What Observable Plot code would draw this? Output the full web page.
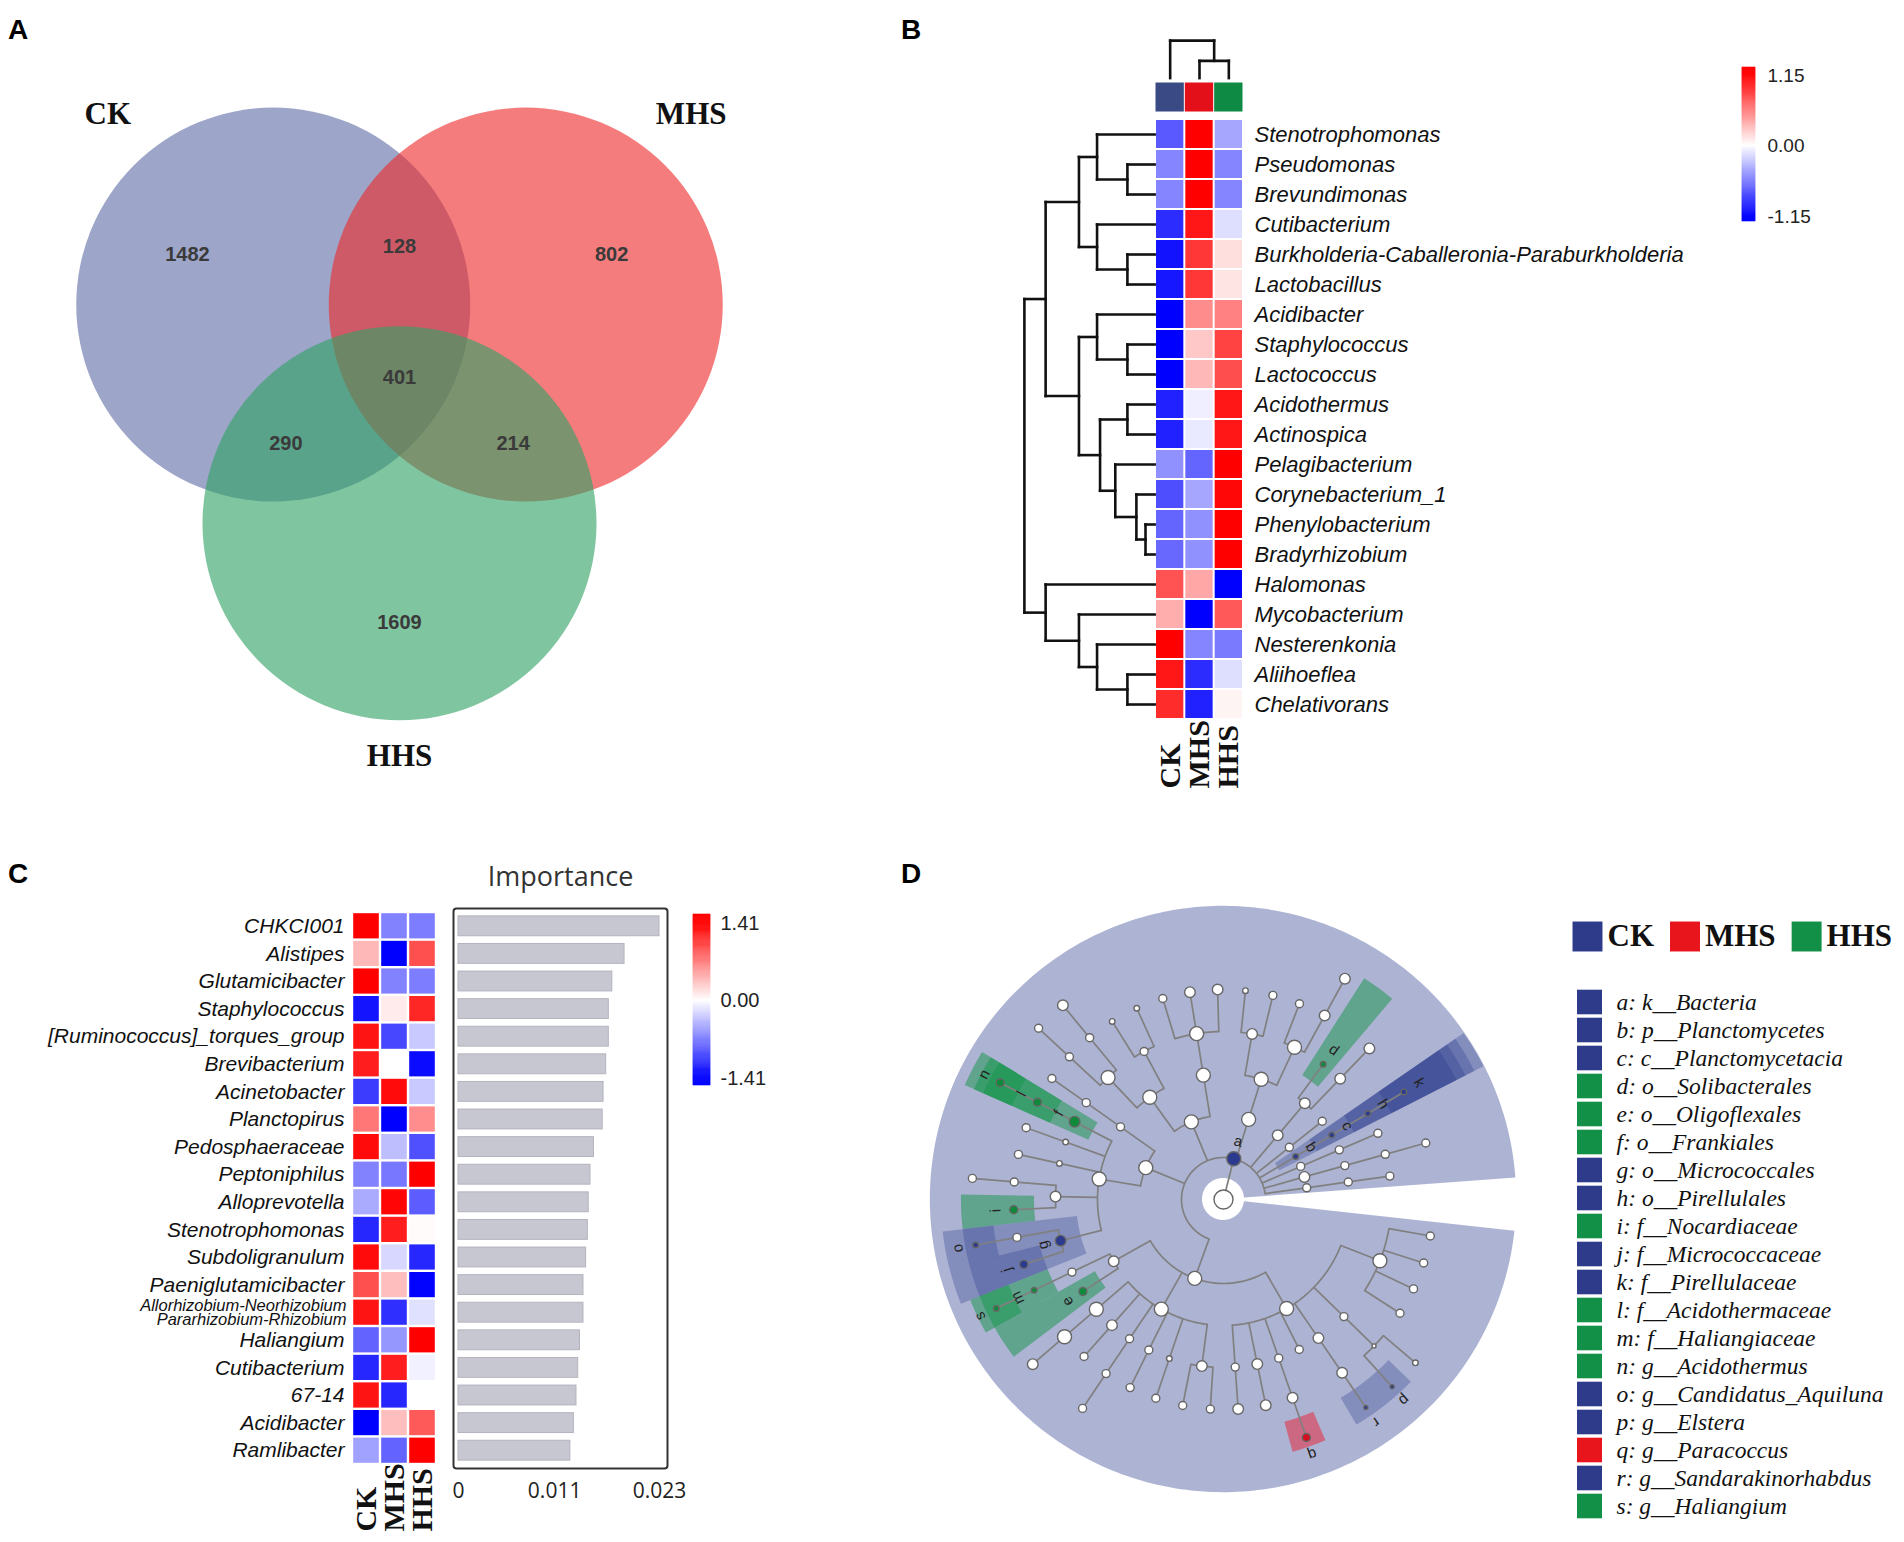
<!DOCTYPE html>
<html><head><meta charset="utf-8">
<script src="https://cdn.jsdelivr.net/npm/d3@7"></script>
<script src="https://cdn.jsdelivr.net/npm/@observablehq/plot@0.6"></script>
<style>
html,body{margin:0;padding:0;background:#fff;}
#fig{position:relative;width:1904px;height:1542px;overflow:hidden;font-family:"Liberation Sans",Arial,sans-serif;}
.panel{position:absolute;}
.tag{position:absolute;font:bold 28px "Liberation Sans",Arial,sans-serif;line-height:1;color:#000;}
</style></head><body>
<div id="fig"></div>
<script>
// ================= DATA =================
const groups = ["CK", "MHS", "HHS"];

// Panel A : Venn
const vennSets = ["CK", "MHS", "HHS"];
const vennRegions = [["CK"], ["MHS"], ["HHS"], ["CK","MHS"], ["CK","HHS"], ["MHS","HHS"], ["CK","MHS","HHS"]];
const vennCounts = [1482, 802, 1609, 128, 290, 214, 401];

// Panel B : clustered heatmap
const bGenera = ["Stenotrophomonas","Pseudomonas","Brevundimonas","Cutibacterium","Burkholderia-Caballeronia-Paraburkholderia","Lactobacillus","Acidibacter","Staphylococcus","Lactococcus","Acidothermus","Actinospica","Pelagibacterium","Corynebacterium_1","Phenylobacterium","Bradyrhizobium","Halomonas","Mycobacterium","Nesterenkonia","Aliihoeflea","Chelativorans"];
const bCK  = [-0.75,-0.55,-0.55,-0.95,-1.07,-1.05,-1.15,-1.15,-1.15,-1.0,-1.0,-0.5,-0.8,-0.7,-0.68,0.78,0.37,1.15,1.05,0.95];
const bMHS = [1.15,1.15,1.15,1.05,0.9,0.9,0.52,0.25,0.32,-0.07,-0.1,-0.7,-0.4,-0.5,-0.5,0.4,-1.15,-0.55,-0.95,-1.0];
const bHHS = [-0.4,-0.55,-0.55,-0.15,0.15,0.12,0.57,0.85,0.8,1.05,1.05,1.15,1.12,1.15,1.15,-1.15,0.75,-0.6,-0.15,0.05];
const bLimit = 1.15;
// dendrograms: [height, left, right], leaves = row / column index
const bRowTree = [1.0,
  [0.837,
    [0.581, [0.442, 0, [0.209, 1, 2]], [0.442, 3, [0.209, 4, 5]]],
    [0.581, [0.442, 6, [0.209, 7, 8]], [0.419, [0.209, 9, 10], [0.302, 11, [0.14, 12, [0.07, 13, 14]]]]]],
  [0.837, 15, [0.581, 16, [0.442, 17, [0.209, 18, 19]]]]];
const bColTree = [1.0, 0, [0.46, 1, 2]];

// Panel C : heatmap + importance
const cGenera = ["CHKCI001","Alistipes","Glutamicibacter","Staphylococcus","[Ruminococcus]_torques_group","Brevibacterium","Acinetobacter","Planctopirus","Pedosphaeraceae","Peptoniphilus","Alloprevotella","Stenotrophomonas","Subdoligranulum","Paeniglutamicibacter","Allorhizobium-Neorhizobium-Pararhizobium-Rhizobium","Haliangium","Cutibacterium","67-14","Acidibacter","Ramlibacter"];
const cCK  = [1.41,0.39,1.41,-1.3,1.3,1.25,-1.08,0.75,1.35,-0.69,-0.47,-1.2,1.35,0.97,1.3,-0.86,-1.2,1.3,-1.41,-0.52];
const cMHS = [-0.69,-1.41,-0.69,0.11,-1.02,0.0,1.35,-1.41,-0.36,-0.75,1.38,1.25,-0.22,0.36,-1.15,-0.58,1.25,-1.2,0.36,-0.86];
const cHHS = [-0.72,0.97,-0.72,1.2,-0.3,-1.35,-0.3,0.63,-0.97,1.41,-0.9,0.02,-1.2,-1.4,-0.17,1.41,-0.08,0.0,0.91,1.41];
const cImportance = [0.0230,0.0190,0.0176,0.0172,0.0172,0.0169,0.0166,0.0165,0.0155,0.0151,0.0149,0.0148,0.0146,0.0143,0.0143,0.0139,0.0137,0.0135,0.0132,0.0128];
const cTicks = [0, 0.011, 0.023];
const cLimit = 1.41;

// Panel D : LEfSe cladogram
const cladeIds = ["a","b","c","d","e","f","g","h","i","j","k","l","m","n","o","p","q","r","s"];
const cladeTaxa = ["k__Bacteria","p__Planctomycetes","c__Planctomycetacia","o__Solibacterales","o__Oligoflexales","o__Frankiales","o__Micrococcales","o__Pirellulales","f__Nocardiaceae","f__Micrococcaceae","f__Pirellulaceae","f__Acidothermaceae","f__Haliangiaceae","g__Acidothermus","g__Candidatus_Aquiluna","g__Elstera","g__Paracoccus","g__Sandarakinorhabdus","g__Haliangium"];
const cladeGroup = ["CK","CK","CK","HHS","HHS","HHS","CK","CK","HHS","CK","CK","HHS","HHS","HHS","CK","CK","MHS","CK","HHS"];
// tree: N(abundance class, children, biomarker id)
const N = (s, ch = [], id = null) => ({s, ch, id});
const cladeTree = N(5, [
  N(4, [
    N(4, [
      N(4, [
        N(4, [N(2), N(2), N(2), N(2)]),
        N(2, [N(0, [N(1), N(0, [], "p")])]),
        N(3, [N(3, [N(0, [], "r")])]),
        N(2),
        N(2, [N(3, [N(2, [], "q")])]),
        N(3, [N(3)]),
        N(2, [N(3)])
      ]),
      N(4, [
        N(3, [N(2), N(2)]),
        N(1, [N(2)]),
        N(2, [N(2)]),
        N(2, [N(2, [N(2)])]),
        N(3, [N(2)]),
        N(4, [N(4, [N(3)])])
      ]),
      N(3, [
        N(2, [], "e"),
        N(2, [N(1, [N(1, [], "s")], "m")])
      ])
    ]),
    N(4, [
      N(4, [
        N(3, [N(2, [], "j"), N(2, [N(1, [], "o")])], "g"),
        N(3, [N(2, [], "i"), N(2, [N(2)])]),
        N(1, [N(2)]),
        N(1, [N(2)]),
        N(3, [N(2, [N(2, [], "n")], "l")], "f")
      ]),
      N(2, [N(2, [N(2)])])
    ]),
    N(4, [
      N(4, [N(4, [N(2, [N(2)]), N(2, [N(3)])]), N(2, [N(1), N(1)])]),
      N(4, [N(4, [N(2), N(3), N(3)])])
    ]),
    N(4, [N(4, [N(3, [N(1), N(2)]), N(4, [N(2), N(3, [N(3)])])])]),
    N(3, [N(3, [N(1, [], "d"), N(3, [N(3)])])]),
    N(2, [N(2)]),
    N(1, [N(1, [N(1, [N(1, [], "k")], "h")], "c")], "b"),
    N(2, [N(2, [N(2)])]),
    N(3, [N(2, [N(2, [N(2)])])]),
    N(2, [N(2, [N(2)])])
  ], "a")
]);

// ================= STYLE / HELPERS =================
const SANS = "'Liberation Sans', Arial, sans-serif";
const SERIF = "'Liberation Serif', 'Times New Roman', serif";
const fig = document.getElementById("fig");
function place(node, left, top) {
  const d = document.createElement("div");
  d.className = "panel"; d.style.left = left + "px"; d.style.top = top + "px";
  d.appendChild(node); fig.appendChild(d);
}
function tag(t, left, top) {
  const d = document.createElement("div"); d.className = "tag";
  d.style.left = left + "px"; d.style.top = top + "px"; d.textContent = t; fig.appendChild(d);
}
const diverging = lim => ({type: "linear", domain: [-lim, 0, lim], range: ["#0000ff", "#ffffff", "#ff0000"], interpolate: "rgb", clamp: true});
const rad = a => a * Math.PI / 180;

function dendroSegments(tree, leafPos) {
  const segs = [];
  (function walk(n) {
    if (typeof n === "number") return {p: leafPos(n), h: 0};
    const [h, l, r] = n;
    const a = walk(l), b = walk(r);
    segs.push({h1: h, p1: a.p, h2: h, p2: b.p});
    segs.push({h1: h, p1: a.p, h2: a.h, p2: a.p});
    segs.push({h1: h, p1: b.p, h2: b.h, p2: b.p});
    return {p: (a.p + b.p) / 2, h};
  })(tree);
  return segs;
}

function colorBar({limit, width, height, bar, ticksPx, barPx, dx, fontSize}) {
  const [t0, t1] = ticksPx, [p0, p1] = barPx;
  const per = 2 * limit / (t1 - t0);
  const vTop = limit + (t0 - p0) * per, vBot = -limit - (p1 - t1) * per;
  const n = 160;
  const slices = d3.range(n).map(i => {
    const a = vTop - (vTop - vBot) * i / n, b = vTop - (vTop - vBot) * (i + 1) / n;
    return {a, b, v: Math.max(-limit, Math.min(limit, (a + b) / 2))};
  });
  return Plot.plot({
    width, height, margin: 0,
    x: {axis: null, domain: [0, 1], range: bar},
    y: {axis: null, domain: [limit, -limit], range: [t0, t1]},
    color: diverging(limit),
    marks: [
      Plot.rect(slices, {x1: 0, x2: 1, y1: "a", y2: "b", fill: "v", stroke: "v", strokeWidth: 0.6}),
      Plot.text([limit, 0, -limit], {x: 1, y: d => d, dx, text: d => d.toFixed(2), textAnchor: "start", fontSize, fontFamily: SANS, fill: "#222"})
    ]
  });
}

// ================= PANEL A =================
{
  const vennAngle = {CK: 210, MHS: 330, HHS: 90};
  const vennFill = {CK: "#616ea6", MHS: "#ed2c2c", HHS: "#30a166"};
  const u = 197, dist = 0.74, W = 860, H = 820, ox = 399, oy = 377;
  const ctr = s => [dist * Math.cos(rad(vennAngle[s])), dist * Math.sin(rad(vennAngle[s]))];
  const regionPos = sets => {
    if (sets.length === 1) return ctr(sets[0]).map(v => v * 1.68);
    if (sets.length === 2) { const o = vennSets.find(s => !sets.includes(s)); return ctr(o).map(v => -0.9 * v); }
    return [0, 0];
  };
  const labelPolar = {CK: [229, 1.28], MHS: [311, 1.28], HHS: [90, 1.18]};
  const setLabel = s => { const c = ctr(s), [a, r] = labelPolar[s]; return [c[0] + r * Math.cos(rad(a)), c[1] + r * Math.sin(rad(a))]; };
  const A = Plot.plot({
    width: W, height: H, margin: 0,
    x: {axis: null, domain: [-ox / u, (W - ox) / u], range: [0, W]},
    y: {axis: null, domain: [-oy / u, (H - oy) / u], range: [0, H]},
    color: {type: "identity"},
    marks: [
      Plot.dot(vennSets, {x: s => ctr(s)[0], y: s => ctr(s)[1], r: u, fill: s => vennFill[s], fillOpacity: 0.62}),
      Plot.text(vennCounts, {x: (d, i) => regionPos(vennRegions[i])[0], y: (d, i) => regionPos(vennRegions[i])[1], text: d => String(d), fontSize: 20, fontWeight: "bold", fontFamily: "'Liberation Sans Narrow', 'Liberation Sans', sans-serif", fill: "#3a3a3a"}),
      Plot.text(vennSets, {x: s => setLabel(s)[0], y: s => setLabel(s)[1], text: s => s, fontSize: 31, fontWeight: "bold", fontFamily: SERIF, fill: "#111"})
    ]
  });
  place(A, 0, 0);
}

// ================= PANEL B =================
{
  const xPx = 29.33, yPx = 30, x0 = 255, y0 = 119, W = 1004, H = 830;
  const barColor = {CK: "#3a4a84", MHS: "#e3101a", HHS: "#0e8a44"};
  const vals = [bCK, bMHS, bHHS];
  const cells = [];
  bGenera.forEach((g, r) => groups.forEach((k, c) => cells.push({r, c, v: vals[c][r]})));
  const rowSegs = dendroSegments(bRowTree, i => i + 0.5);
  const colSegs = dendroSegments(bColTree, i => i + 0.5);
  const rx = h => -0.03 - h * 4.44, cy = h => -1.38 - h * 1.25;
  const B = Plot.plot({
    width: W, height: H, margin: 0,
    x: {axis: null, domain: [-x0 / xPx, (W - x0) / xPx], range: [0, W]},
    y: {axis: null, domain: [-y0 / yPx, (H - y0) / yPx], range: [0, H]},
    color: diverging(bLimit),
    marks: [
      Plot.rect(cells, {x1: d => d.c, x2: d => d.c + 1, y1: d => d.r, y2: d => d.r + 1, fill: "v", inset: 1}),
      ...groups.map((g, i) => Plot.rect([g], {x1: i, x2: i + 1, y1: -1.233, y2: -0.233, fill: barColor[g], inset: 0.5})),
      Plot.link(rowSegs, {x1: d => rx(d.h1), y1: "p1", x2: d => rx(d.h2), y2: "p2", stroke: "#111", strokeWidth: 2.6, strokeLinecap: "square"}),
      Plot.link(colSegs, {x1: "p1", y1: d => cy(d.h1), x2: "p2", y2: d => cy(d.h2), stroke: "#111", strokeWidth: 2.6, strokeLinecap: "square"}),
      Plot.text(bGenera, {x: 3, y: (d, i) => i + 0.5, dx: 11, text: d => d, textAnchor: "start", fontStyle: "italic", fontSize: 22, fontFamily: SANS, fill: "#111"}),
      Plot.text(groups, {x: (d, i) => i + 0.5, y: 22.3, text: d => d, rotate: -90, textAnchor: "start", fontFamily: SERIF, fontWeight: "bold", fontSize: 30, fill: "#111"})
    ]
  });
  place(B, 900, 0);
  place(colorBar({limit: bLimit, width: 120, height: 190, bar: [12, 25], ticksPx: [25, 166], barPx: [17, 171], dx: 12, fontSize: 19}), 1730, 50);
}

// ================= PANEL C =================
{
  const xPx = 28, yPx = 27.6, x0 = 352, y0 = 72, W = 450, H = 702;
  const vals = [cCK, cMHS, cHHS];
  const cells = [];
  cGenera.forEach((g, r) => groups.forEach((k, c) => cells.push({r, c, v: vals[c][r]})));
  const rowsIdx = cGenera.map((g, i) => ({g, i}));
  const isLong = d => d.g.includes("Pararhizobium");
  const C1 = Plot.plot({
    width: W, height: H, margin: 0,
    x: {axis: null, domain: [-x0 / xPx, (W - x0) / xPx], range: [0, W]},
    y: {axis: null, domain: [-y0 / yPx, (H - y0) / yPx], range: [0, H]},
    color: diverging(cLimit),
    marks: [
      Plot.rect(cells, {x1: d => d.c, x2: d => d.c + 1, y1: d => d.r, y2: d => d.r + 1, fill: "v", inset: 1.2}),
      Plot.text(rowsIdx.filter(d => !isLong(d)), {x: 0, y: d => d.i + 0.5, dx: -8, text: d => d.g, textAnchor: "end", fontStyle: "italic", fontSize: 21, fontFamily: SANS, fill: "#111"}),
      Plot.text(rowsIdx.filter(isLong), {x: 0, y: d => d.i + 0.5, dx: -6, dy: 0.5, text: d => d.g.replace("-Pararhizobium", "\nPararhizobium"), lineHeight: 0.9, textAnchor: "end", fontStyle: "italic", fontSize: 16.5, fontFamily: SANS, fill: "#111"}),
      Plot.text(groups, {x: (d, i) => i + 0.5, y: 22.43, text: d => d, rotate: -90, textAnchor: "start", fontFamily: SERIF, fontWeight: "bold", fontSize: 30, fill: "#111"})
    ]
  });
  place(C1, 0, 840);
  const C2 = Plot.plot({
    width: 250, height: H, marginLeft: 13, marginRight: 23, marginTop: 68, marginBottom: 74,
    x: {axis: null, domain: [0, 0.023], range: [18, 219]},
    y: {axis: null, domain: [-y0 / yPx, (H - y0) / yPx], range: [0, H]},
    marks: [
      Plot.frame({stroke: "#333", strokeWidth: 2, rx: 3}),
      Plot.rect(cImportance, {x1: 0, x2: d => d, y1: (d, i) => i + 0.14, y2: (d, i) => i + 0.86, fill: "#c6c7d0", stroke: "#b3b4be", strokeWidth: 1}),
      Plot.text(cTicks, {x: d => d, frameAnchor: "bottom", lineAnchor: "middle", dy: 23, text: d => d === 0 ? "0" : d.toFixed(3), fontFamily: "'Open Sans', sans-serif", fontSize: 21, fill: "#222"}),
      Plot.text(["Importance"], {frameAnchor: "top", lineAnchor: "middle", dy: -31, text: d => d, fontFamily: "'Open Sans', sans-serif", fontSize: 27, fill: "#333"})
    ]
  });
  place(C2, 440, 840);
  place(colorBar({limit: cLimit, width: 110, height: 200, bar: [13, 30], ticksPx: [23, 178], barPx: [14, 185], dx: 10, fontSize: 20}), 680, 900);
}

// ================= PANEL D =================
{
  const groupColor = {CK: "#28378c", MHS: "#eb1e32", HHS: "#14964a"};
  const nodeColor = {CK: "#2b3a8f", MHS: "#d40f1f", HHS: "#0f8a3a"};
  const grpOf = id => cladeGroup[cladeIds.indexOf(id)];
  const leafStart = 10, leafStep = 7.6;
  let leafIdx = 0;
  const nodes = [];
  (function layout(n, level) {
    n.level = level;
    if (!n.ch.length) { n.ang = leafStart + leafStep * leafIdx++; n.lo = n.hi = n.ang; }
    else {
      n.ch.forEach(c => layout(c, level + 1));
      n.ang = d3.mean(n.ch, c => c.ang); n.lo = d3.min(n.ch, c => c.lo); n.hi = d3.max(n.ch, c => c.hi);
    }
    nodes.push(n);
  })(cladeTree, 0);
  const P = (r, a) => [r * Math.cos(rad(a)), r * Math.sin(rad(a))];
  const arcPts = [], radials = [];
  nodes.forEach((n, k) => {
    if (n.ch.length && n.level > 0) {
      const lo = Math.min(n.ang, ...n.ch.map(c => c.ang)), hi = Math.max(n.ang, ...n.ch.map(c => c.ang));
      if (hi > lo) {
        for (let a = lo; a < hi; a += 1) { const [x, y] = P(n.level, a); arcPts.push({k, x, y}); }
        const [x, y] = P(n.level, hi); arcPts.push({k, x, y});
      }
    }
    n.ch.forEach(c => {
      const [x1, y1] = P(n.level, c.ang), [x2, y2] = P(c.level, c.ang);
      radials.push({x1, y1, x2, y2});
    });
  });
  const hlDepth = n => { let m = 0; n.ch.forEach(c => { const d = hlDepth(c); if (c.id) m = Math.max(m, 1 + d); else if (d) m = Math.max(m, d + 1); }); return m; };
  const hlPts = [];
  nodes.filter(n => n.id).sort((a, b) => a.level - b.level).forEach(n => {
    const g = grpOf(n.id);
    const inner = n.level - 0.5, outer = Math.min(6.24 + 0.24 * hlDepth(n), 6.98);
    const lo = n.lo - 3.8, hi = n.hi + 3.8;
    const op = g === "CK" ? (n.level === 1 ? 0.38 : 0.3) : 0.5;
    const push = a => { const [x1, y1] = P(inner, a), [x2, y2] = P(outer, a); hlPts.push({k: n.id, x1, y1, x2, y2, fill: groupColor[g], op}); };
    for (let a = lo; a < hi; a += 1) push(a);
    push(hi);
  });
  const labeled = nodes.filter(n => n.id);
  const W = 640, H = 702, cx = 323, cy = 359, u = 42;
  const D = Plot.plot({
    width: W, height: H, margin: 0,
    x: {axis: null, domain: [-cx / u, (W - cx) / u], range: [0, W]},
    y: {axis: null, domain: [-cy / u, (H - cy) / u], range: [0, H]},
    color: {type: "identity"},
    r: {type: "linear", domain: [0, 1, 2, 3, 4, 5], range: [2, 2.8, 4, 5.3, 7, 9.5]},
    marks: [
      Plot.area(hlPts, {x1: "x1", y1: "y1", x2: "x2", y2: "y2", z: "k", fill: "fill", fillOpacity: "op"}),
      Plot.line(arcPts, {x: "x", y: "y", z: "k", stroke: "#808080", strokeWidth: 1.7}),
      Plot.link(radials, {x1: "x1", y1: "y1", x2: "x2", y2: "y2", stroke: "#808080", strokeWidth: 1.7}),
      Plot.dot(nodes, {x: n => P(n.level, n.ang)[0], y: n => P(n.level, n.ang)[1], r: "s", fill: n => n.id ? nodeColor[grpOf(n.id)] : "#ffffff", stroke: "#666", strokeWidth: 1.4}),
      Plot.text(labeled, {x: n => P(n.level + 0.43, n.ang)[0], y: n => P(n.level + 0.43, n.ang)[1], text: n => n.id, rotate: n => n.ang + 90, fontSize: 15, fontFamily: SANS, fill: "#222"})
    ]
  });
  place(D, 900, 840);

  // legend
  const legendColor = {CK: "#2e3b8b", MHS: "#e8161c", HHS: "#129048"};
  const items = cladeIds.map((id, i) => ({id, text: `${id}: ${cladeTaxa[i]}`, g: cladeGroup[i]}));
  const ctx = document.createElement("canvas").getContext("2d");
  ctx.font = "bold 31px 'Liberation Serif'";
  let pos = 32;
  const header = groups.map(g => { const h = {g, sx: pos + 15, tx: pos + 35}; pos += 35 + ctx.measureText(g).width + 16; return h; });
  const L = Plot.plot({
    width: 364, height: 662, margin: 0,
    x: {axis: null, domain: [0, 364], range: [0, 364]},
    y: {axis: null, type: "band", domain: cladeIds, range: [103.8, 643.4], padding: 0},
    color: {type: "identity"},
    marks: [
      Plot.barX(items, {x1: 37, x2: 62, y: "id", fill: d => legendColor[d.g], insetTop: 1.7, insetBottom: 1.7}),
      Plot.text(items, {x: 76, y: "id", text: "text", textAnchor: "start", fontFamily: SERIF, fontStyle: "italic", fontSize: 23.5, fill: "#111"}),
      Plot.dot(header, {x: "sx", frameAnchor: "top", dy: 56, symbol: "square", r: 16.9, fill: d => legendColor[d.g]}),
      Plot.text(header, {x: "tx", frameAnchor: "top", lineAnchor: "middle", dy: 56, text: "g", textAnchor: "start", fontFamily: SERIF, fontWeight: "bold", fontSize: 31, fill: "#111"})
    ]
  });
  place(L, 1540, 880);
}

tag("A", 8, 16); tag("B", 901, 16); tag("C", 8, 860); tag("D", 901, 860);
</script></body></html>
